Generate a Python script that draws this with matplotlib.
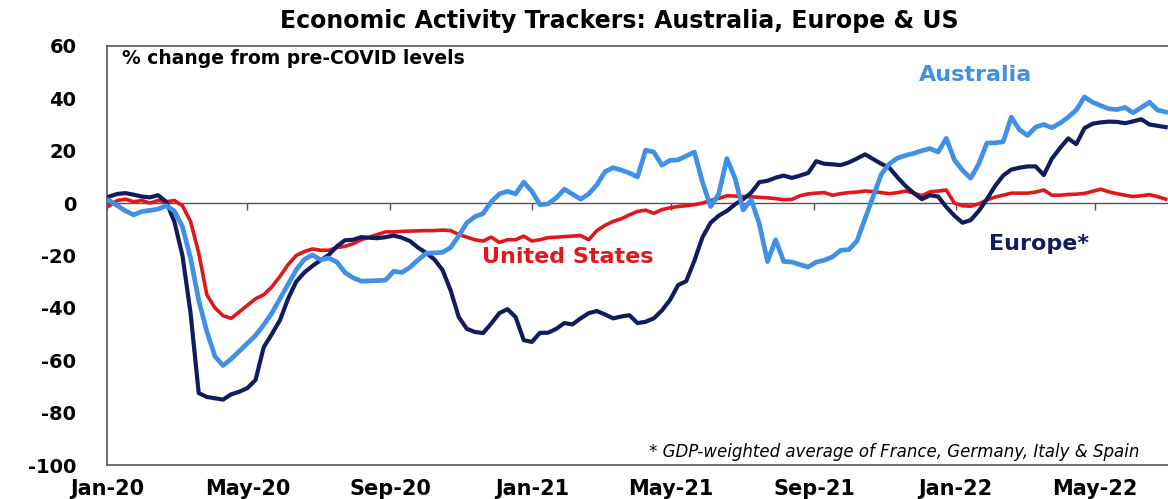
import numpy as np
import pandas as pd
import matplotlib
matplotlib.use("Agg")
import matplotlib.pyplot as plt
import matplotlib.dates as mdates

# weekly readings, % change from pre-COVID levels
weeks = pd.date_range("2020-01-03", periods=131, freq="7D")

us = [
    -1, 1, 1.5, 0.5, 1, 0, 1, 0.5, 1, -1,
    -7, -19, -35, -40, -43, -44, -41.5, -39, -36.5, -35,
    -32, -28, -23.5, -20, -18.5, -17.5, -18, -18, -17, -16.5,
    -15.5, -14, -13, -12, -11, -11, -10.8, -10.7, -10.6, -10.5,
    -10.5, -10.3, -10.5, -12, -13, -14, -14.5, -13, -15, -14,
    -14, -12.6, -14.5, -14, -13.2, -13, -12.8, -12.6, -12.4, -14,
    -10.5, -8.5, -7, -6, -4.5, -3.2, -2.7, -3.9, -2.5, -1.8,
    -1.3, -1, -0.6, 0, 1, 1.8, 2.8, 2.7, 2.5, 2.4,
    2.2, 2, 1.7, 1.3, 1.4, 2.8, 3.5, 3.8, 4, 3,
    3.6, 4, 4.2, 4.6, 4.4, 4, 3.6, 4, 4.6, 3.8,
    2.8, 4.3, 4.6, 5, 0, -1, -1.2, -0.3, 1.2, 2.3,
    3, 3.8, 3.8, 3.8, 4.2, 5, 3, 3, 3.3, 3.4,
    3.7, 4.5, 5.3, 4.3, 3.6, 3, 2.5, 2.8, 3.2, 2.5,
    1.5,
]

europe = [
    2.5, 3.5, 3.8, 3.2, 2.5, 2.2, 3, 0.5, -7, -20,
    -42, -72.5, -74, -74.5, -75, -73, -72, -70.6, -67.5, -55,
    -50, -44.7, -36.5, -30, -26.5, -24, -21.8, -19.8, -16.5, -14.2,
    -14, -13, -13.2, -13.4, -13, -12.4, -13.2, -14.5, -17, -19,
    -21.5, -25.5, -33.3, -43.5, -48, -49.2, -49.6, -46, -42, -40.5,
    -43.5, -52.3, -53, -49.5, -49.5, -48, -45.8, -46.3, -44, -42,
    -41.2, -42.5, -44, -43.3, -42.8, -45.8, -45.3, -44, -41, -37,
    -31.3, -29.8, -22, -13, -7.5, -4.8, -3, -0.5, 1.5, 4,
    8, 8.5, 9.7, 10.5, 9.6, 10.5, 11.5, 16, 15, 14.8,
    14.5, 15.5, 17, 18.6, 16.8, 15, 13.5, 9.8, 6.5, 3.8,
    1.5, 3, 2.5, -1.5, -4.8, -7.5, -6.5, -3, 1.5, 6.5,
    10.5, 12.8, 13.5, 14, 14, 10.7, 17, 21, 24.7, 22.5,
    28.6, 30.3, 30.8, 31.1, 31, 30.5, 31.2, 32, 30, 29.5,
    29,
]

australia = [
    1, -1, -3, -4.5, -3.2, -2.8, -2.3, -1, -3, -9,
    -21, -37, -49, -58.5, -62, -59.5, -56.5, -53.5, -50.5, -46.5,
    -42, -36.5, -31, -25.5, -21.5, -19.8, -21.6, -21, -22.5, -26.5,
    -28.5, -29.8, -29.7, -29.6, -29.4, -26, -26.5, -24.5, -21.7, -19.2,
    -19, -18.8, -17, -12.5, -7.5, -5.2, -4, 0.5, 3.5, 4.5,
    3.5, 8, 4.5, -0.6, -0.3, 2, 5.3, 3.4, 1.5, 3.5,
    7, 12, 13.5, 12.6, 11.5, 10, 20.2, 19.5, 14.5, 16.3,
    16.5, 18, 19.5, 8, -1.3, 3.5, 17, 9.5, -2.6, 1.2,
    -8, -22.3, -14, -22.3, -22.5, -23.5, -24.4, -22.5, -21.8, -20.5,
    -18, -17.8, -14.5, -6, 2.5, 11, 15, 17.2, 18.2, 19,
    20, 20.8, 19.5, 24.7, 16.5, 12.5, 9.5, 15, 22.9, 23,
    23.4, 32.8, 28, 25.8, 29, 30, 28.8, 30.5, 32.8, 35.5,
    40.5, 38.5, 37.2, 36, 35.7, 36.5, 34.5, 36.5, 38.5, 35.5,
    34.8,
]

tick_dates = pd.to_datetime(["2020-01-01", "2020-05-01", "2020-09-01", "2021-01-01",
                             "2021-05-01", "2021-09-01", "2022-01-01", "2022-05-01"])
y_ticks = [-100, -80, -60, -40, -20, 0, 20, 40, 60]

RED = "#e3161b"
NAVY = "#111c5e"
BLUE = "#4090e6"
GREY = "#555555"

plt.rcParams["font.family"] = ["DejaVu Sans"]
plt.rcParams["axes.unicode_minus"] = False

fig = plt.figure(figsize=(11.68, 4.99), dpi=100)
ax = fig.add_axes([0.0916, 0.068, 0.9084, 0.840])

ax.plot(weeks, us, color=RED, lw=2.6, solid_joinstyle="round", zorder=3)
ax.plot(weeks, europe, color=NAVY, lw=3.0, solid_joinstyle="round", zorder=4)
ax.plot(weeks, australia, color=BLUE, lw=3.4, solid_joinstyle="round", zorder=5)

# zero line with small month ticks hanging below it
ax.axhline(0, color=GREY, lw=1.0, zorder=2)
ax.plot(tick_dates, np.zeros(len(tick_dates)), ls="none", marker=3,
        ms=5, mew=1.0, color=GREY, zorder=2)

ax.set_xlim(pd.Timestamp("2020-01-01"), pd.Timestamp("2022-07-03"))
ax.set_ylim(-100, 60)
ax.set_yticks(y_ticks)
ax.set_xticks(tick_dates)
ax.xaxis.set_major_formatter(mdates.DateFormatter("%b-%y"))
ax.tick_params(axis="y", length=0, pad=22, labelsize=14)
ax.tick_params(axis="x", length=0, pad=10, labelsize=15)
for lab in ax.get_xticklabels() + ax.get_yticklabels():
    lab.set_fontweight("bold")

for side in ["left", "top", "bottom"]:
    ax.spines[side].set_color(GREY)
    ax.spines[side].set_linewidth(1.2)
ax.spines["right"].set_visible(False)

fig.text(0.53, 0.958, "Economic Activity Trackers: Australia, Europe & US",
         ha="center", va="center", fontsize=17, fontweight="bold")
ax.text(0.014, 0.971, "% change from pre-COVID levels", transform=ax.transAxes,
        ha="left", va="center", fontsize=13.5, fontweight="bold")
ax.text(pd.Timestamp("2022-01-18"), 49, "Australia", color=BLUE,
        ha="center", va="center", fontsize=16, fontweight="bold")
ax.text(pd.Timestamp("2022-03-14"), -15.5, "Europe*", color=NAVY,
        ha="center", va="center", fontsize=16, fontweight="bold")
ax.text(pd.Timestamp("2021-02-01"), -20.5, "United States", color=RED,
        ha="center", va="center", fontsize=16, fontweight="bold")
ax.text(0.973, 0.031, "* GDP-weighted average of France, Germany, Italy & Spain",
        transform=ax.transAxes, ha="right", va="center", fontsize=12, style="italic")

fig.savefig("out.png", dpi=100)
